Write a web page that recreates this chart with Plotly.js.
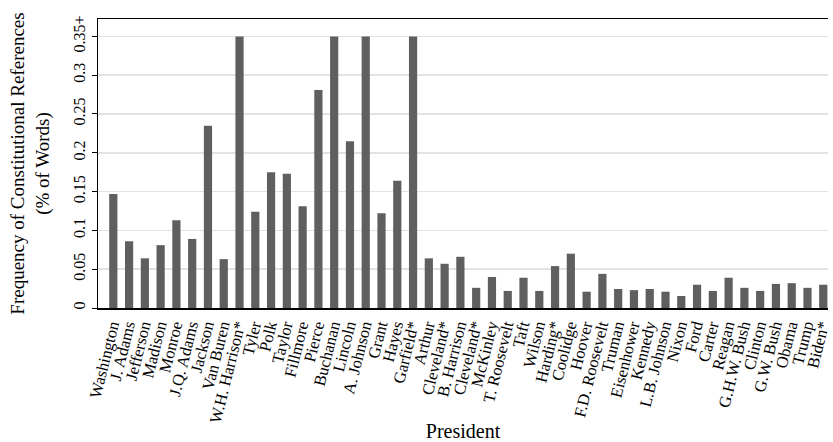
<!DOCTYPE html>
<html>
<head>
<meta charset="utf-8">
<script src="https://cdn.plot.ly/plotly-3.0.1.min.js"></script>
<style>html,body{margin:0;padding:0;background:#fff;}#chart{width:833px;height:442px;}</style>
</head>
<body>
<div id="chart"></div>
<script>
const presidents = ["Washington","J. Adams","Jefferson","Madison","Monroe","J.Q. Adams","Jackson","Van Buren","W.H. Harrison*","Tyler","Polk","Taylor","Fillmore","Pierce","Buchanan","Lincoln","A. Johnson","Grant","Hayes","Garfield*","Arthur","Cleveland*","B. Harrison","Cleveland*","McKinley","T. Roosevelt","Taft","Wilson","Harding*","Coolidge","Hoover","F.D. Roosevelt","Truman","Eisenhower","Kennedy","L.B. Johnson","Nixon","Ford","Carter","Reagan","G.H.W. Bush","Clinton","G.W. Bush","Obama","Trump","Biden*"];
// frequencies (% of words); values at 0.35 are top-coded (0.35+)
const frequency = [0.147,0.086,0.064,0.081,0.113,0.089,0.235,0.063,0.35,0.124,0.175,0.173,0.131,0.281,0.35,0.215,0.35,0.122,0.164,0.35,0.064,0.057,0.066,0.026,0.040,0.022,0.039,0.022,0.054,0.070,0.021,0.044,0.0245,0.023,0.0245,0.021,0.0155,0.030,0.022,0.039,0.026,0.022,0.031,0.032,0.026,0.030];
const yTickVals = [0,0.05,0.1,0.15,0.2,0.25,0.3,0.35];
const yTickText = ["0","0.05","0.1","0.15","0.2","0.25","0.3","0.35+"];

const idx = presidents.map((_, i) => i);
const serif = "Liberation Serif, Times New Roman, serif";

Plotly.newPlot("chart", [{
  type: "bar",
  x: idx,
  y: frequency,
  width: 0.52,
  marker: {color: "#5f5f5f", line: {width: 0}},
  hoverinfo: "y"
}], {
  width: 833, height: 442,
  margin: {l: 98, r: 5, t: 19, b: 134},
  paper_bgcolor: "#fff", plot_bgcolor: "#fff",
  showlegend: false,
  font: {family: serif, color: "#000"},
  xaxis: {
    range: [-0.97, 45.3],
    tickvals: idx,
    ticktext: presidents,
    tickangle: -76,
    ticklabeloverflow: "allow",
    ticklabelshift: -2,
    tickfont: {family: serif, size: 16.5, color: "#000"},
    showgrid: false, zeroline: false,
    showline: true, linecolor: "#000", linewidth: 1.5, mirror: true,
    ticks: "",
    title: {text: "President", font: {family: serif, size: 20, color: "#000"}, standoff: 8}
  },
  yaxis: {
    range: [0, 0.3724],
    tickvals: yTickVals,
    ticktext: yTickText,
    tickangle: -90,
    tickfont: {family: serif, size: 16, color: "#000"},
    ticks: "outside", ticklen: 5, tickcolor: "#000", tickwidth: 1,
    showgrid: true, gridcolor: "#e2e2e2", gridwidth: 1.5,
    zeroline: false,
    showline: true, linecolor: "#000", linewidth: 1.5,
    title: {text: "Frequency of Constitutional References<br>(% of Words)", font: {family: serif, size: 19, color: "#000"}, standoff: 16}
  }
}, {displayModeBar: false, staticPlot: true});
</script>
</body>
</html>
